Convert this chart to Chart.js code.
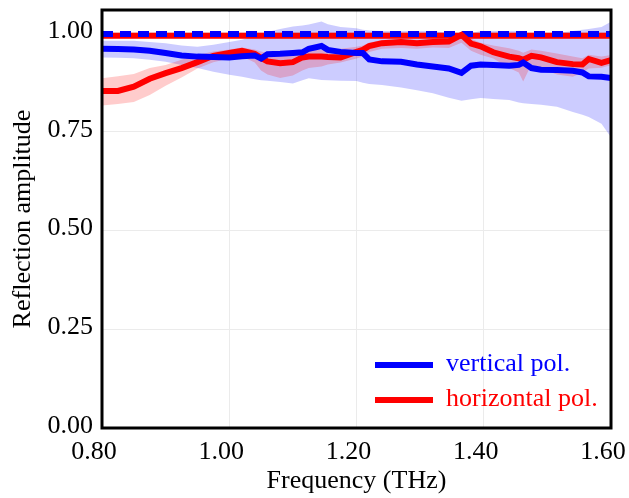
<!DOCTYPE html>
<html>
<head>
<meta charset="utf-8">
<script src="https://cdn.jsdelivr.net/npm/chart.js@4/dist/chart.umd.min.js"></script>
<style>
  body { margin: 0; background: #fff; }
  #wrap { position: relative; width: 629px; height: 498px; }
  .key { position: absolute; left: 375px; width: 58px; height: 6px; }
  .keytext { position: absolute; left: 446px; font: 26px "Liberation Serif", "Times New Roman", serif; line-height: 30px; white-space: nowrap; }
</style>
</head>
<body>
<div id="wrap">
  <canvas id="chart" width="629" height="498"></canvas>
  <div class="key" style="top:362px; background:#0000ff"></div>
  <div class="keytext" style="top:348px; color:#0000ff">vertical pol.</div>
  <div class="key" style="top:397px; background:#ff0000"></div>
  <div class="keytext" style="top:383px; color:#ff0000">horizontal pol.</div>
</div>
<script>
// frequency (THz)
const freq = [0.80, 0.825, 0.85, 0.875, 0.90, 0.925, 0.95, 0.975, 1.00, 1.02,
  1.04, 1.05, 1.06, 1.08, 1.10, 1.115, 1.125, 1.145, 1.155, 1.175,
  1.20, 1.21, 1.22, 1.24, 1.27, 1.295, 1.32, 1.345, 1.365, 1.38,
  1.395, 1.415, 1.44, 1.455, 1.462, 1.475, 1.49, 1.515, 1.54, 1.555,
  1.565, 1.585, 1.60];

// vertical pol. measured mean and spread
const vertMean = [0.960, 0.959, 0.958, 0.955, 0.949, 0.943, 0.940, 0.939, 0.938, 0.941,
  0.943, 0.935, 0.946, 0.947, 0.949, 0.951, 0.960, 0.967, 0.957, 0.952,
  0.949, 0.949, 0.933, 0.928, 0.927, 0.920, 0.915, 0.910, 0.899, 0.917,
  0.920, 0.919, 0.917, 0.919, 0.925, 0.911, 0.907, 0.906, 0.904, 0.900,
  0.890, 0.889, 0.886];
const vertUpper = [0.980, 0.980, 0.980, 0.977, 0.974, 0.968, 0.965, 0.970, 0.977, 0.983,
  0.993, 0.997, 1.002, 1.010, 1.016, 1.019, 1.021, 1.029, 1.022, 1.015,
  1.012, 1.008, 1.006, 1.005, 1.005, 1.005, 1.005, 1.000, 0.990, 1.000,
  1.005, 1.005, 1.005, 1.005, 1.005, 0.992, 0.990, 1.000, 1.005, 1.008,
  1.010, 1.015, 1.028];
const vertLower = [0.938, 0.937, 0.936, 0.932, 0.927, 0.919, 0.911, 0.902, 0.894, 0.889,
  0.883, 0.880, 0.879, 0.876, 0.872, 0.880, 0.885, 0.881, 0.880, 0.879,
  0.878, 0.874, 0.871, 0.868, 0.862, 0.855, 0.847, 0.836, 0.828, 0.832,
  0.835, 0.833, 0.830, 0.824, 0.822, 0.820, 0.818, 0.813, 0.800, 0.793,
  0.787, 0.770, 0.736];

// horizontal pol. measured mean and spread
const horizMean = [0.853, 0.853, 0.864, 0.884, 0.898, 0.911, 0.926, 0.942, 0.949, 0.955,
  0.947, 0.937, 0.928, 0.923, 0.926, 0.938, 0.940, 0.940, 0.939, 0.938,
  0.952, 0.957, 0.967, 0.974, 0.977, 0.974, 0.977, 0.978, 0.995, 0.973,
  0.966, 0.951, 0.940, 0.936, 0.932, 0.942, 0.938, 0.926, 0.921, 0.920,
  0.934, 0.924, 0.931];
const horizUpper = [0.885, 0.890, 0.896, 0.911, 0.919, 0.932, 0.944, 0.953, 0.958, 0.963,
  0.958, 0.953, 0.950, 0.944, 0.948, 0.955, 0.957, 0.957, 0.958, 0.960,
  0.965, 0.968, 0.976, 0.982, 0.985, 0.983, 0.985, 0.987, 1.000, 0.985,
  0.975, 0.968, 0.961, 0.955, 0.950, 0.958, 0.955, 0.948, 0.940, 0.936,
  0.945, 0.940, 0.944];
const horizLower = [0.816, 0.820, 0.825, 0.843, 0.866, 0.887, 0.910, 0.926, 0.935, 0.940,
  0.925, 0.905, 0.895, 0.886, 0.892, 0.905, 0.911, 0.915, 0.920, 0.925,
  0.935, 0.940, 0.952, 0.960, 0.962, 0.960, 0.963, 0.962, 0.975, 0.955,
  0.945, 0.935, 0.911, 0.900, 0.877, 0.920, 0.910, 0.895, 0.889, 0.900,
  0.910, 0.912, 0.918];

// simulated (dashed) curves
const simFreq = [0.80, 1.60];
const vertSim = [0.997, 0.997];
const horizSim = [0.993, 0.993];

const xTicks = [0.80, 1.00, 1.20, 1.40, 1.60];
const yTicks = [0.00, 0.25, 0.50, 0.75, 1.00];

const BLUE = "#0000ff";
const RED = "#ff0000";
const FONT = { family: "'Liberation Serif', 'Times New Roman', serif", size: 26 };

function pts(xs, ys) {
  return xs.map((x, i) => ({ x: x, y: ys[i] }));
}

const frame = {
  id: "frame",
  afterDatasetsDraw(chart) {
    const { ctx, chartArea: a } = chart;
    ctx.save();
    ctx.strokeStyle = "#000";
    ctx.lineWidth = 3;
    ctx.strokeRect(a.left, a.top, a.right - a.left, a.bottom - a.top);
    ctx.restore();
  }
};

function drawChart() {
  const plain = { pointRadius: 0, borderWidth: 0 };
  new Chart(document.getElementById("chart").getContext("2d"), {
    type: "line",
    data: {
      datasets: [
        { ...plain, label: "vu", data: pts(freq, vertUpper), backgroundColor: "rgba(0,0,255,0.2)", fill: "+1", order: 6 },
        { ...plain, label: "vl", data: pts(freq, vertLower), fill: false, order: 6 },
        { ...plain, label: "hu", data: pts(freq, horizUpper), backgroundColor: "rgba(255,0,0,0.2)", fill: "+1", order: 5 },
        { ...plain, label: "hl", data: pts(freq, horizLower), fill: false, order: 5 },
        { label: "horizontal sim", data: pts(simFreq, horizSim), borderColor: RED, borderWidth: 6, pointRadius: 0, fill: false, order: 4 },
        { label: "vertical sim", data: pts(simFreq, vertSim), borderColor: BLUE, borderWidth: 6, borderDash: [11, 7], borderCapStyle: "butt", pointRadius: 0, fill: false, order: 3 },
        { label: "horizontal pol.", data: pts(freq, horizMean), borderColor: RED, borderWidth: 6, pointRadius: 0, fill: false, order: 2 },
        { label: "vertical pol.", data: pts(freq, vertMean), borderColor: BLUE, borderWidth: 6, pointRadius: 0, fill: false, order: 1 }
      ]
    },
    options: {
      responsive: false,
      devicePixelRatio: 1,
      animation: false,
      layout: { padding: { left: 0, right: 18, top: 10, bottom: 0 } },
      plugins: { legend: { display: false }, tooltip: { enabled: false } },
      scales: {
        x: {
          type: "linear", min: 0.8, max: 1.6,
          afterBuildTicks: s => { s.ticks = xTicks.map(v => ({ value: v })); },
          afterFit: s => { s.height = 70; s.paddingLeft = 0; s.paddingRight = 0; },
          grid: { color: "#ebebeb", drawTicks: false },
          border: { display: false },
          ticks: { font: FONT, color: "#000", padding: 9, labelOffset: -8, maxRotation: 0, callback: v => v.toFixed(2) },
          title: { display: true, text: "Frequency (THz)", font: FONT, color: "#000", padding: { top: 0, bottom: 1 } }
        },
        y: {
          min: 0, max: 1.058,
          afterBuildTicks: s => { s.ticks = yTicks.map(v => ({ value: v })); },
          afterFit: s => { s.width = 102; s.paddingTop = 0; s.paddingBottom = 0; },
          grid: { color: "#ebebeb", drawTicks: false },
          border: { display: false },
          ticks: { font: FONT, color: "#000", padding: 9, labelOffset: -2, callback: v => v.toFixed(2) },
          title: { display: true, text: "Reflection amplitude", font: FONT, color: "#000", padding: { top: 8, bottom: 0 } }
        }
      }
    },
    plugins: [frame]
  });
}

document.addEventListener("DOMContentLoaded", drawChart);
</script>
</body>
</html>
